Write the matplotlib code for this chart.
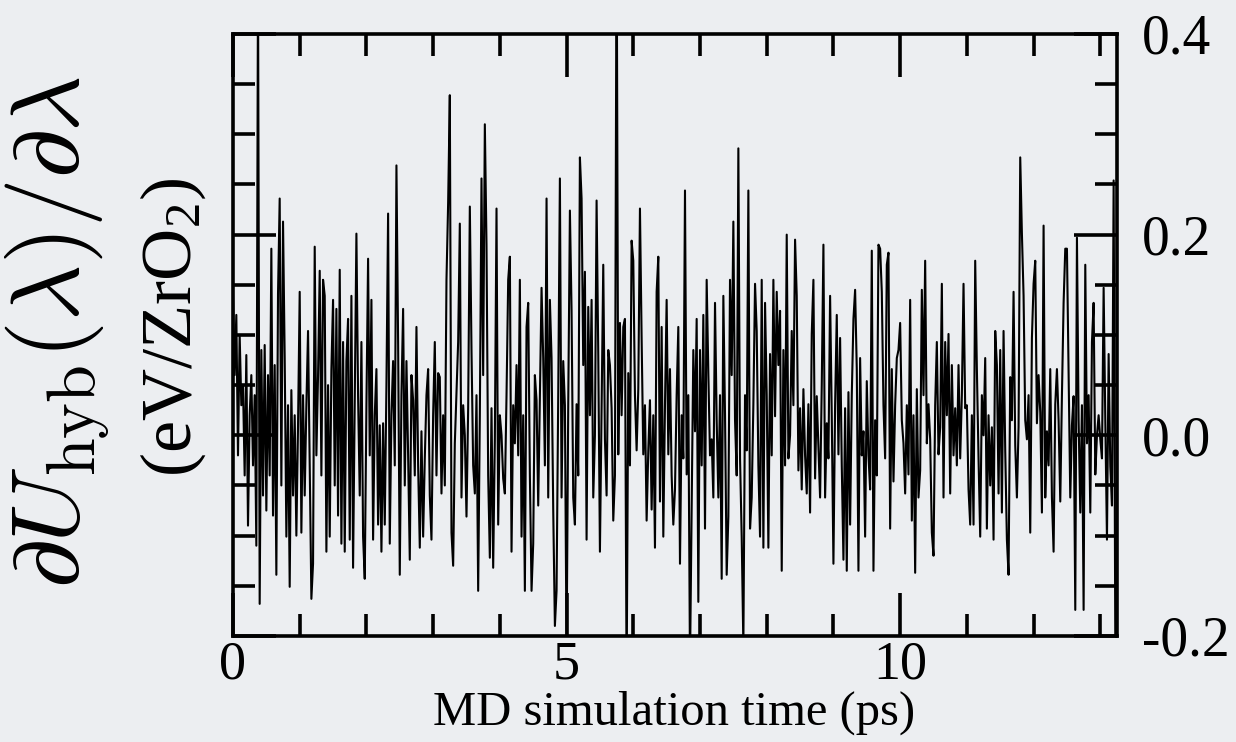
import numpy as np
import matplotlib
matplotlib.use("Agg")
import matplotlib.pyplot as plt
from matplotlib.ticker import MultipleLocator, FuncFormatter

# dU/dlambda samples (meV per ZrO2), one row per picosecond, 0.025 ps apart
dt_ps = 0.025
seg_00 = [140, 60, 120, -20, 100, 30, 50, -40, 80, -90, 20, 60, -30, 40, -110, 460, -168, 85, -60, 90,
          -75, 60, -40, 186, -80, 70, -139, 141, 236, -50, 213, 77, -101, 30, -151, 45, -60, 20, -100, 10]
seg_01 = [143, -97, 40, -60, 30, 104, -30, -163, -128, 188, -20, 60, 164, -40, 155, 139, -116, 50, -101, 66,
          135, -50, 126, -80, 165, -108, 93, -116, 74, 116, -104, 139, -132, 40, 201, 39, -60, 93, -101, -143]
seg_02 = [30, 176, -20, 135, -104, 20, 66, -89, 10, -116, 12, -89, 50, 221, -108, 20, 74, -30, 269, 93,
          -139, 40, 126, -50, 74, -20, -124, 60, 35, -40, 108, -30, -112, 4, -101, -23, 40, 66, -60, -104]
seg_03 = [20, 93, -40, 62, 58, -58, 20, -50, 155, 232, 339, -97, -130, -8, 43, 93, 211, -62, 30, 0,
          -81, 27, 228, 85, -30, -58, 40, -155, 20, 256, 60, 310, 190, -40, -122, 27, -132, -4, 226, -89]
seg_04 = [20, 0, -43, -58, 40, 155, 178, -116, 30, -8, 70, -20, 155, -101, 20, -155, 108, 132, -40, -155,
          -108, 60, 35, -70, 40, 147, 77, -30, 236, -62, 135, 77, -74, -190, -155, 40, 256, -62, 74, 30]
seg_05 = [-220, 31, 224, 124, -62, -89, 31, -40, 277, 236, 70, 163, -104, 128, 20, 135, -62, 0, 234, 81,
          -116, 30, 170, -4, -60, 85, 70, 27, -85, -40, 520, -19, 112, 20, 108, 116, -250, 62, -30, 194]
seg_06 = [174, 40, -15, 46, 226, 97, -19, 30, -85, -15, 35, -74, 20, -112, 143, 178, -66, 108, -101, 30,
          135, -19, 66, -40, -89, -54, 40, 108, -128, 20, -23, 244, -39, 40, -230, -77, 85, 4, 116, -166]
seg_07 = [85, -30, 120, -93, 155, 62, -20, -4, -62, 132, 15, -62, 40, -143, 139, 20, -139, -81, 155, 60,
          213, 15, -40, 286, -23, -101, -210, 40, -15, 244, -93, -62, 31, 151, 104, -30, -101, 155, -112, 132]
seg_08 = [40, -112, 81, -20, 155, 19, 143, 70, 124, -135, 85, -30, 200, -23, 0, 104, 30, 195, 139, -35,
          27, -54, 46, -20, -58, 31, -77, 101, 155, -43, 39, -10, -62, 50, 190, -62, 12, -23, 139, 20]
seg_09 = [-128, 30, 120, -19, 97, -30, -124, 27, -135, 43, -89, 40, 116, 145, 66, -135, 77, -20, 4, -101,
          54, -20, -54, 184, -135, 15, -40, 190, 186, 143, 30, -23, 170, 182, -93, 66, -46, 30, 77, 85]
seg_10 = [112, 15, -8, -58, 30, -39, 135, -85, 20, -137, 46, -62, -35, 145, 40, 174, -8, 31, -4, -97,
          -120, 30, 93, -19, 8, 151, -62, 93, 20, 101, -58, 70, -20, 27, -30, 70, -23, 40, 151, 27]
seg_11 = [30, -54, -89, 20, -89, 174, 66, -23, -101, 40, 0, 77, -93, 20, -50, 8, -104, 104, 70, -58,
          85, -77, 104, -15, -104, -139, 58, 15, 143, -10, -62, 8, 277, 201, 139, 15, -4, 40, -97, 97]
seg_12 = [151, 174, 12, 60, 23, -77, 209, -62, 4, -30, 66, -62, -116, 31, 66, 15, -66, 40, 132, 186,
          186, 62, -62, 10, 39, -174, 197, 15, -77, 30, -174, 170, -8, 40, -77, 93, 132, -39, 0, 20]
seg_13 = [-4, -23, 147, 15, -104, 81, -31, -70, 254, -210]

x_ticks_major = [0, 5, 10]
y_ticks_major = [-0.2, 0.0, 0.2, 0.4]

segments = [seg_00, seg_01, seg_02, seg_03, seg_04, seg_05, seg_06, seg_07,
            seg_08, seg_09, seg_10, seg_11, seg_12, seg_13]
dudl = np.concatenate([np.asarray(s, dtype=float) for s in segments]) / 1000.0
time_ps = np.arange(dudl.size) * dt_ps

bg = "#eceef1"
plt.rcParams["font.family"] = ["Liberation Serif", "DejaVu Serif"]
plt.rcParams["mathtext.fontset"] = "custom"
plt.rcParams["mathtext.rm"] = "Liberation Serif"
plt.rcParams["mathtext.it"] = "Liberation Serif:italic"
plt.rcParams["axes.unicode_minus"] = False

fig = plt.figure(figsize=(12.36, 7.42), dpi=100, facecolor=bg)
ax = fig.add_axes([0.1885, 0.1429, 0.7152, 0.8113])
ax.set_facecolor(bg)

ax.plot(time_ps, dudl, color="black", lw=1.5)

ax.set_xlim(0, 13.25)
ax.set_ylim(-0.2, 0.4)
ax.set_xticks(x_ticks_major)
ax.xaxis.set_minor_locator(MultipleLocator(1))
ax.set_yticks(y_ticks_major)
ax.yaxis.set_minor_locator(MultipleLocator(0.05))
ax.yaxis.set_major_formatter(FuncFormatter(lambda v, p: f"{v:.1f}"))

for sp in ax.spines.values():
    sp.set_linewidth(2.6)
    sp.set_color("black")

ax.tick_params(which="both", direction="in", top=True, bottom=True, left=True, right=True,
               labelleft=False, labelright=True, width=2.6, color="black")
ax.tick_params(which="major", length=31)
ax.tick_params(which="minor", length=16)
ax.tick_params(axis="x", which="major", labelsize=39, pad=3)
ax.tick_params(axis="y", which="major", labelsize=40, pad=18)

fig.text(0.545, 0.040, "MD simulation time (ps)", ha="center", va="center", fontsize=35)
fig.text(0.047, 0.553, r"$\partial U_{\rm hyb}(\lambda)/\partial\lambda$", rotation=90,
         ha="center", va="center", fontsize=70, math_fontfamily="cm")
fig.text(0.140, 0.559, r"(eV/ZrO$_2$)", rotation=90, ha="center", va="center", fontsize=52)

fig.savefig("out.png", dpi=100, facecolor=bg)
